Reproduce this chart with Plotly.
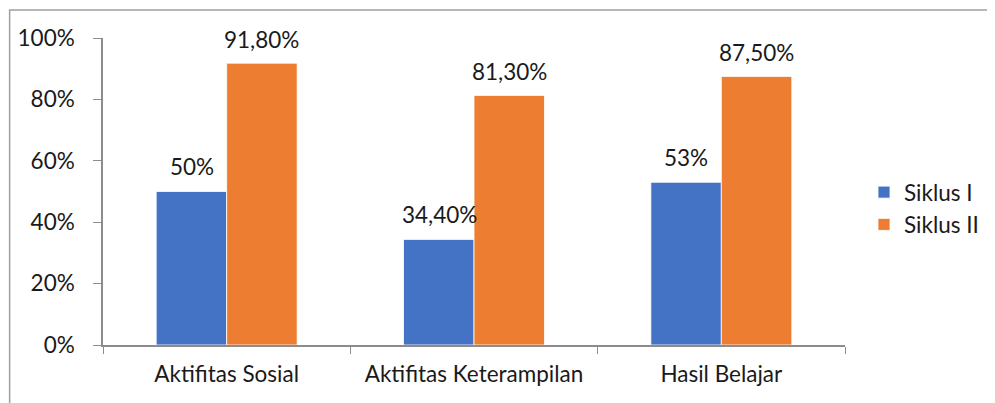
import plotly.graph_objects as go

categories = ["Aktifitas Sosial", "Aktifitas Keterampilan", "Hasil Belajar"]
siklus1 = [50, 34.4, 53]
siklus2 = [91.8, 81.3, 87.5]
labels1 = ["50%", "34,40%", "53%"]
labels2 = ["91,80%", "81,30%", "87,50%"]
yticks = [0, 20, 40, 60, 80, 100]
yticktext = ["0%", "20%", "40%", "60%", "80%", "100%"]

FONT = "Lato"
FS = 22.5
TXT = "#1a1a1a"
OFF = 8  # page body margin
W, H = 995 - OFF, 403 - OFF
L, T = 103 - OFF, 38 - OFF
R = W - (846 - OFF)
B = H - (345 - OFF)
pw, ph = W - L - R, H - T - B

fig = go.Figure()
fig.add_trace(go.Bar(x=categories, y=siklus1, name="Siklus I", marker_color="#4472C4",
                     marker_line=dict(color="white", width=0.8), legendgroup="g1"))
fig.add_trace(go.Bar(x=categories, y=siklus2, name="Siklus II", marker_color="#ED7D31",
                     marker_line=dict(color="white", width=0.8), legendgroup="g2"))

ann = []
for c, v, t in zip(categories, siklus1, labels1):
    ann.append(dict(x=c, y=v, text=t, showarrow=False, xshift=-35, yshift=25,
                    yanchor="middle", font=dict(family=FONT, size=FS, color=TXT)))
for c, v, t in zip(categories, siklus2, labels2):
    ann.append(dict(x=c, y=v, text=t, showarrow=False, xshift=35, yshift=24,
                    yanchor="middle", font=dict(family=FONT, size=FS, color=TXT)))

def px_x(p):
    return (p - OFF - L) / pw

def px_y(p):
    return (H - B - (p - OFF)) / ph

border = dict(color="#a0a0a0", width=1.5)

fig.update_layout(
    width=W, height=H,
    margin=dict(l=L, r=R, t=T, b=B),
    plot_bgcolor="white", paper_bgcolor="white",
    barmode="group", bargap=0.43, bargroupgap=0,
    font=dict(family=FONT, size=FS, color=TXT),
    annotations=ann,
    xaxis=dict(showline=True, linecolor="#8c8c8c", linewidth=1.5, ticks="outside",
               tickson="boundaries", ticklen=7, tickcolor="#8c8c8c", showgrid=False,
               ticklabelstandoff=8, automargin=False,
               tickfont=dict(family=FONT, size=FS, color=TXT)),
    yaxis=dict(range=[0, 100], tickmode="array", tickvals=yticks, ticktext=yticktext,
               showline=True, linecolor="#8c8c8c", linewidth=1.5, ticks="outside",
               ticklen=8, tickcolor="#8c8c8c", showgrid=False, zeroline=False,
               ticklabelstandoff=14, automargin=False,
               tickfont=dict(family=FONT, size=FS, color=TXT)),
    legend=dict(x=px_x(864), xanchor="left", y=px_y(208.5), yanchor="middle",
                tracegroupgap=14, font=dict(family=FONT, size=FS, color=TXT),
                bgcolor="rgba(0,0,0,0)", traceorder="normal"),
    shapes=[
        dict(type="rect", xref="paper", yref="paper",
             x0=px_x(9.5), x1=px_x(1010), y0=px_y(420), y1=px_y(10),
             line=border, fillcolor="rgba(0,0,0,0)", layer="above"),
    ],
)

fig.write_html("out.html")
